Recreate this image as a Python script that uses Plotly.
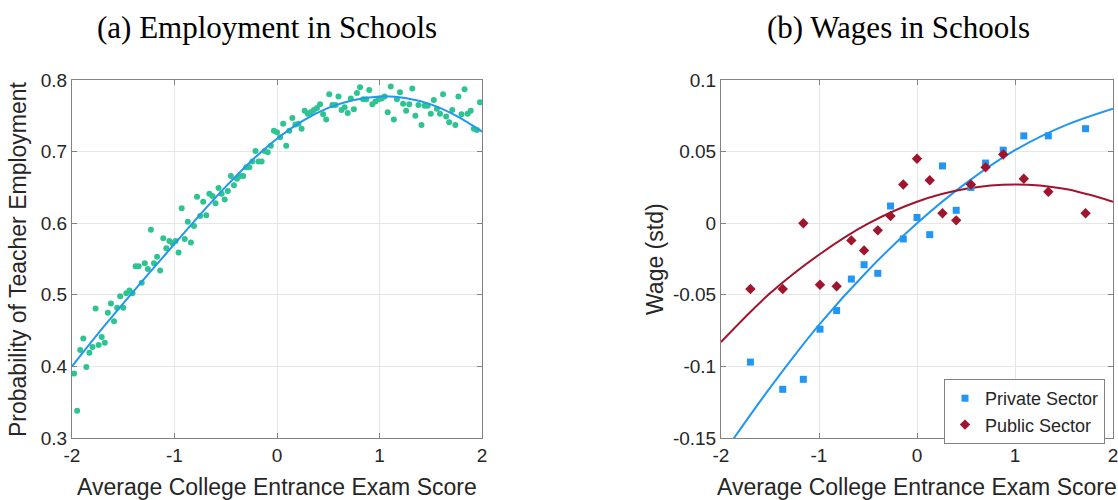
import plotly.graph_objects as go

# ---------------- Panel (a): employment ----------------
emp_x = [-1.98, -1.95, -1.92, -1.89, -1.86, -1.83, -1.80, -1.77, -1.74, -1.71,
         -1.68, -1.65, -1.62, -1.59, -1.56, -1.53, -1.50, -1.47, -1.44, -1.41,
         -1.38, -1.35, -1.32, -1.29, -1.26, -1.23, -1.20, -1.17, -1.14, -1.11,
         -1.08, -1.05, -1.02, -0.99, -0.96, -0.93, -0.90, -0.87, -0.84, -0.81,
         -0.78, -0.75, -0.72, -0.69, -0.66, -0.63, -0.60, -0.57, -0.54, -0.51,
         -0.48, -0.45, -0.42, -0.39, -0.36, -0.33, -0.30, -0.27, -0.24, -0.21,
         -0.18, -0.15, -0.12, -0.09, -0.06, -0.03, 0.00, 0.03, 0.06, 0.09,
         0.12, 0.15, 0.18, 0.21, 0.24, 0.27, 0.30, 0.33, 0.36, 0.39,
         0.42, 0.45, 0.48, 0.51, 0.54, 0.57, 0.60, 0.63, 0.66, 0.69,
         0.72, 0.75, 0.78, 0.81, 0.84, 0.87, 0.90, 0.93, 0.96, 0.99,
         1.02, 1.05, 1.08, 1.11, 1.14, 1.17, 1.20, 1.23, 1.26, 1.29,
         1.32, 1.35, 1.38, 1.41, 1.44, 1.47, 1.50, 1.53, 1.56, 1.59,
         1.62, 1.65, 1.68, 1.71, 1.74, 1.77, 1.80, 1.83, 1.86, 1.89,
         1.92, 1.95, 1.98]
emp_y = [0.390, 0.338, 0.423, 0.439, 0.399, 0.419, 0.427, 0.481, 0.430, 0.441,
         0.433, 0.475, 0.488, 0.463, 0.482, 0.498, 0.482, 0.502, 0.506, 0.502,
         0.540, 0.540, 0.517, 0.544, 0.536, 0.591, 0.544, 0.553, 0.534, 0.579,
         0.565, 0.575, 0.572, 0.575, 0.559, 0.621, 0.578, 0.602, 0.573, 0.596,
         0.637, 0.610, 0.630, 0.611, 0.641, 0.638, 0.628, 0.649, 0.641, 0.633,
         0.645, 0.666, 0.653, 0.662, 0.666, 0.666, 0.678, 0.678, 0.686, 0.701,
         0.686, 0.686, 0.701, 0.699, 0.708, 0.729, 0.727, 0.720, 0.739, 0.708,
         0.729, 0.747, 0.738, 0.739, 0.732, 0.757, 0.753, 0.755, 0.758, 0.761,
         0.766, 0.752, 0.745, 0.780, 0.765, 0.765, 0.777, 0.758, 0.762, 0.754,
         0.774, 0.759, 0.782, 0.790, 0.773, 0.773, 0.786, 0.766, 0.770, 0.773,
         0.774, 0.777, 0.755, 0.791, 0.745, 0.773, 0.783, 0.767, 0.757, 0.766,
         0.788, 0.750, 0.765, 0.737, 0.764, 0.764, 0.753, 0.772, 0.760, 0.753,
         0.780, 0.749, 0.741, 0.758, 0.737, 0.777, 0.752, 0.787, 0.753, 0.757,
         0.732, 0.730, 0.769]

emp_fit_x = [-2.0, -1.75, -1.5, -1.25, -1.0, -0.75, -0.5, -0.25, 0.0,
             0.25, 0.5, 0.75, 1.0, 1.25, 1.5, 1.75, 2.0]
emp_fit_y = [0.400, 0.445, 0.488, 0.530, 0.571, 0.612, 0.651, 0.687, 0.718,
             0.743, 0.761, 0.772, 0.777, 0.775, 0.766, 0.750, 0.728]

# ---------------- Panel (b): wages ----------------
wage_x = [-1.70, -1.37, -1.16, -0.99, -0.82, -0.67, -0.54, -0.40, -0.27, -0.14,
          0.00, 0.13, 0.26, 0.40, 0.55, 0.70, 0.88, 1.09, 1.34, 1.72]
private_y = [-0.097, -0.116, -0.109, -0.074, -0.061, -0.039, -0.029, -0.035, 0.012, -0.011,
             0.004, -0.008, 0.040, 0.009, 0.025, 0.042, 0.051, 0.061, 0.061, 0.066]
public_y = [-0.046, -0.046, 0.000, -0.043, -0.044, -0.012, -0.019, -0.005, 0.005, 0.027,
            0.045, 0.030, 0.007, 0.002, 0.027, 0.039, 0.048, 0.031, 0.022, 0.007]

wage_fit_x = [-2.0, -1.5, -1.0, -0.5, 0.0, 0.5, 1.0, 1.5, 2.0]
private_fit_y = [-0.163, -0.115, -0.071, -0.033, 0.000, 0.028, 0.051, 0.068, 0.080]
public_fit_y = [-0.083, -0.049, -0.022, -0.0003, 0.015, 0.024, 0.027, 0.024, 0.015]

x_ticks = [-2, -1, 0, 1, 2]
x_ticktext = ["-2", "-1", "0", "1", "2"]
emp_ticks = [0.3, 0.4, 0.5, 0.6, 0.7, 0.8]
emp_ticktext = ["0.3", "0.4", "0.5", "0.6", "0.7", "0.8"]
wage_ticks = [-0.15, -0.1, -0.05, 0, 0.05, 0.1]
wage_ticktext = ["-0.15", "-0.1", "-0.05", "0", "0.05", "0.1"]

GREEN = "rgb(46,196,146)"
BLUE = "rgb(33,150,243)"
RED = "rgb(160,20,45)"
AXC = "rgb(130,130,130)"
TXT = "rgb(38,38,38)"
SANS = "Liberation Sans, Arial, sans-serif"
SERIF = "Liberation Serif, Times New Roman, serif"

fig = go.Figure()

fig.add_trace(go.Scatter(x=emp_x, y=emp_y, mode="markers",
                         marker=dict(color=GREEN, size=6, line=dict(width=0)),
                         showlegend=False, xaxis="x", yaxis="y"))
fig.add_trace(go.Scatter(x=emp_fit_x, y=emp_fit_y, mode="lines",
                         line=dict(color=BLUE, width=2, shape="spline"),
                         showlegend=False, xaxis="x", yaxis="y"))

fig.add_trace(go.Scatter(x=wage_fit_x, y=private_fit_y, mode="lines",
                         line=dict(color=BLUE, width=2, shape="spline"),
                         showlegend=False, xaxis="x2", yaxis="y2"))
fig.add_trace(go.Scatter(x=wage_fit_x, y=public_fit_y, mode="lines",
                         line=dict(color=RED, width=2, shape="spline"),
                         showlegend=False, xaxis="x2", yaxis="y2"))
fig.add_trace(go.Scatter(x=wage_x, y=private_y, mode="markers", name="Private Sector",
                         marker=dict(color=BLUE, size=7, symbol="square", line=dict(width=0)),
                         xaxis="x2", yaxis="y2"))
fig.add_trace(go.Scatter(x=wage_x, y=public_y, mode="markers", name="Public Sector",
                         marker=dict(color=RED, size=8, symbol="diamond", line=dict(width=0)),
                         xaxis="x2", yaxis="y2"))

ax_common = dict(showline=True, linecolor=AXC, linewidth=1, mirror="ticks",
                 ticks="inside", ticklen=5, tickcolor=AXC, automargin=False,
                 ticklabeloverflow="allow",
                 showgrid=True, gridcolor="rgb(230,230,230)", gridwidth=1,
                 zeroline=False, tickfont=dict(family=SANS, size=19, color=TXT))

fig.update_layout(
    width=1118, height=500,
    margin=dict(l=0, r=0, t=0, b=0, autoexpand=False),
    paper_bgcolor="white", plot_bgcolor="white",
    xaxis=dict(domain=[72/1118, 482/1118], range=[-2, 2], tickvals=x_ticks,
               ticktext=x_ticktext, anchor="y", **ax_common),
    yaxis=dict(domain=[1-438/500, 1-80/500], range=[0.3, 0.8], tickvals=emp_ticks,
               ticktext=emp_ticktext, anchor="x", **ax_common),
    xaxis2=dict(domain=[721/1118, 1113/1118], range=[-2, 2], tickvals=x_ticks,
                ticktext=x_ticktext, anchor="y2", **ax_common),
    yaxis2=dict(domain=[1-438/500, 1-80/500], range=[-0.15, 0.1], tickvals=wage_ticks,
                ticktext=wage_ticktext, anchor="x2", **ax_common),
    legend=dict(x=1105/1118, xanchor="right", y=1-379/500, yanchor="top",
                bgcolor="white", bordercolor=AXC, borderwidth=1,
                font=dict(family=SANS, size=18, color=TXT),
                itemwidth=30, tracegroupgap=0),
    showlegend=True,
)

ann = [
    dict(text="(a) Employment in Schools", x=267/1118, y=1-27/500,
         font=dict(family=SERIF, size=31, color="black")),
    dict(text="(b) Wages in Schools", x=898/1118, y=1-27/500,
         font=dict(family=SERIF, size=31, color="black")),
    dict(text="Average College Entrance Exam Score", x=277/1118, y=1-487/500,
         font=dict(family=SANS, size=23, color=TXT)),
    dict(text="Average College Entrance Exam Score", x=917/1118, y=1-487/500,
         font=dict(family=SANS, size=23, color=TXT)),
    dict(text="Probability of Teacher Employment", x=18/1118, y=1-259/500, textangle=-90,
         font=dict(family=SANS, size=23, color=TXT)),
    dict(text="Wage (std)", x=655/1118, y=1-259/500, textangle=-90,
         font=dict(family=SANS, size=23, color=TXT)),
]
for a in ann:
    a.update(xref="paper", yref="paper", showarrow=False, xanchor="center", yanchor="middle")
fig.update_layout(annotations=ann)

fig.write_html("out.html")
